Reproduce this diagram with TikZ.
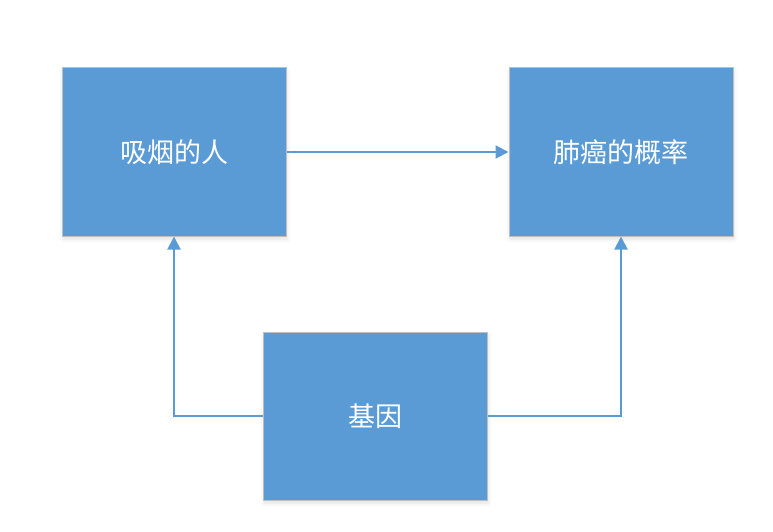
\documentclass[tikz,border=0pt]{standalone}
\usepackage{fontspec}
\newfontfamily\cjk{Noto Sans CJK SC}
\usetikzlibrary{arrows.meta,shadows.blur}
\definecolor{boxblue}{HTML}{5B9BD5}
\definecolor{boxedge}{HTML}{BFBFBF}
\begin{document}
\begin{tikzpicture}[x=1pt,y=-1pt,
  cbox/.style={draw=boxedge,line width=1pt,fill=boxblue,minimum width=224pt,minimum height=168pt,inner sep=0pt,
    text=white,font=\cjk\fontsize{27}{31}\selectfont,
    blur shadow={shadow xshift=1pt,shadow yshift=-3pt,shadow blur radius=4pt,shadow opacity=12}},
  conn/.style={draw=boxblue,line width=2pt,-{Triangle[length=13pt,width=13pt]}}]
\useasboundingbox (0,0) rectangle (773,532);
\node[cbox] (smoke) at (174,152) {吸烟的人};
\node[cbox] (cancer) at (621,152) {肺癌的概率};
\node[cbox] (gene) at (375,416) {基因};
\draw[conn] (smoke.east) -- (cancer.west);
\draw[conn] (gene.west) -| (smoke.south);
\draw[conn] (gene.east) -| (cancer.south);
\end{tikzpicture}
\end{document}
